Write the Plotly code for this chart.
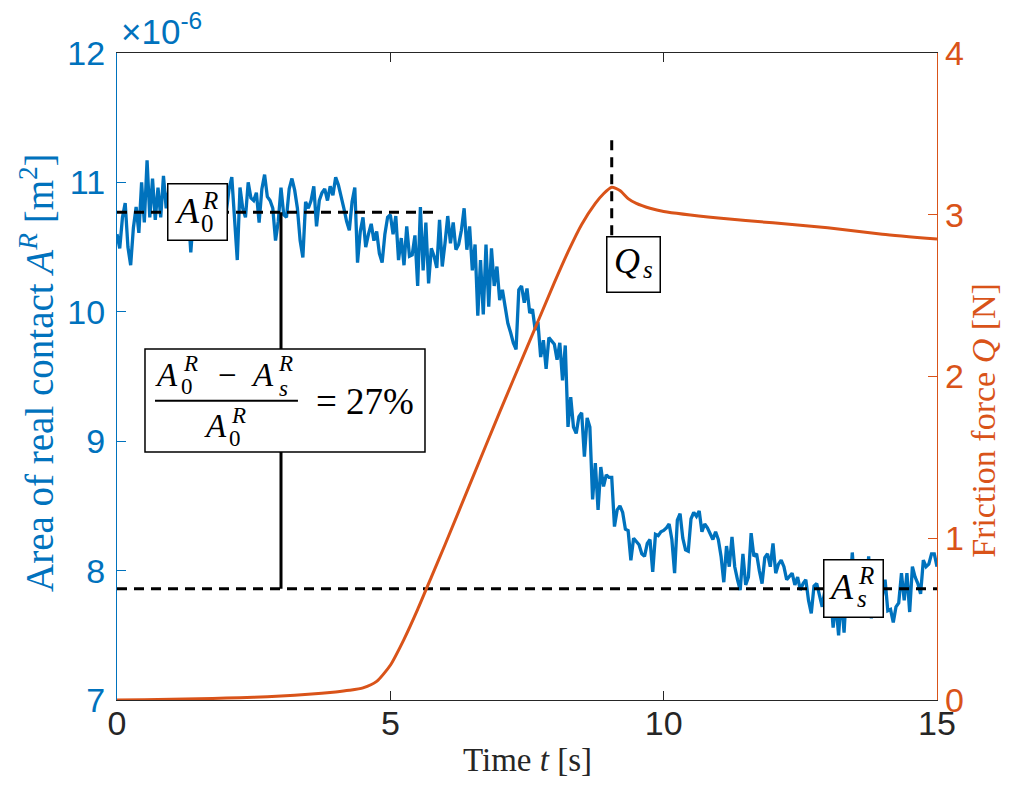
import plotly.graph_objects as go

# ---------------- data ----------------
# Area of real contact, units of 1e-6 m^2, sampled every 0.05 s from 0 to 15 s
area = [
    10.60, 10.49, 10.73, 10.84, 10.50, 10.36, 10.65, 10.81, 10.61, 11.00, 10.69, 11.17, 10.73, 11.03, 10.71, 10.96, 10.73, 11.05, 10.80, 10.95,
    10.85, 10.70, 10.92, 10.78, 10.88, 10.65, 10.80, 10.46, 10.75, 10.90, 10.68, 10.85, 10.58, 10.80, 10.95, 10.72, 10.88, 10.62, 10.84, 10.98,
    10.77, 10.95, 11.04, 10.70, 10.40, 10.96, 10.80, 10.73, 11.00, 10.88, 10.86, 10.92, 10.69, 10.95, 11.06, 10.89, 10.86, 10.80, 10.55, 10.70,
    10.96, 10.75, 10.73, 10.95, 11.03, 10.94, 10.80, 10.55, 10.42, 10.85, 10.80, 10.86, 10.97, 10.66, 10.86, 10.92, 10.95, 10.86, 10.97, 10.90,
    11.04, 10.98, 10.90, 10.80, 10.70, 10.63, 10.85, 10.96, 10.38, 10.62, 10.73, 10.50, 10.60, 10.68, 10.55, 10.62, 10.45, 10.38, 10.60, 10.73,
    10.75, 10.60, 10.74, 10.40, 10.57, 10.36, 10.66, 10.43, 10.44, 10.59, 10.20, 10.81, 10.32, 10.69, 10.22, 10.49, 10.43, 10.34, 10.71, 10.35,
    10.53, 10.74, 10.53, 10.69, 10.48, 10.52, 10.63, 10.80, 10.48, 10.66, 10.32, 10.52, 9.97, 10.40, 9.98, 10.52, 10.04, 10.49, 10.20, 10.35,
    10.09, 10.17, 10.04, 9.91, 9.84, 9.76, 9.71, 10.17, 10.20, 10.07, 10.18, 9.99, 10.02, 9.86, 9.92, 9.65, 9.78, 9.56, 9.80, 9.77,
    9.75, 9.63, 9.76, 9.47, 9.74, 9.11, 9.34, 9.11, 9.06, 9.19, 9.22, 8.88, 9.18, 9.11, 8.55, 8.83, 8.47, 8.80, 8.65, 8.74,
    8.72, 8.72, 8.34, 8.47, 8.50, 8.45, 8.32, 8.31, 8.08, 8.25, 8.22, 8.20, 8.13, 8.11, 8.21, 8.24, 7.99, 8.28, 8.27, 8.30,
    8.31, 8.33, 8.36, 8.24, 7.98, 8.39, 8.44, 8.25, 8.16, 8.15, 8.40, 8.45, 8.42, 8.46, 8.30, 8.36, 8.33, 8.28, 8.24, 8.30,
    8.24, 8.11, 7.91, 8.19, 8.03, 8.26, 8.03, 7.93, 7.85, 8.13, 7.89, 7.95, 8.29, 8.11, 8.13, 8.00, 7.90, 8.10, 8.13, 8.03,
    8.21, 7.98, 8.05, 8.08, 8.03, 7.93, 7.96, 7.98, 7.89, 7.95, 7.85, 7.90, 7.93, 7.77, 7.67, 7.88, 7.90, 7.80, 7.72, 7.85,
    7.70, 7.85, 7.56, 7.75, 7.50, 7.80, 7.52, 7.90, 7.78, 8.14, 7.85, 7.95, 7.75, 7.90, 7.80, 8.11, 7.63, 7.88, 7.72, 7.85,
    7.80, 7.93, 7.69, 7.70, 7.60, 7.72, 7.75, 7.98, 7.77, 7.98, 7.68, 8.03, 7.95, 7.90, 7.82, 8.08, 8.03, 8.05, 8.13, 8.13, 8.03,
]
t_area = [round(i * 0.05, 2) for i in range(len(area))]

# Friction force Q [N]
t_force = [0, 0.5, 1, 1.5, 2, 2.5, 3, 3.5, 4, 4.25, 4.5, 4.75, 5.0, 5.25, 5.5, 5.75, 6.0, 6.5,
           7.0, 7.5, 8.0, 8.25, 8.5, 8.75, 8.9, 9.05, 9.2, 9.35, 9.5, 9.75, 10, 11, 12, 13, 14, 15]
force = [0, 0.002, 0.005, 0.008, 0.012, 0.017, 0.024, 0.035, 0.050, 0.060, 0.075, 0.115, 0.215, 0.375,
         0.56, 0.76, 0.96, 1.37, 1.78, 2.18, 2.58, 2.77, 2.94, 3.07, 3.13, 3.17, 3.15, 3.10, 3.07,
         3.04, 3.02, 2.98, 2.95, 2.92, 2.88, 2.85]

A0_level = 10.77      # initial contact area level
As_level = 7.86       # contact area at sliding onset
A0_line_t = [0, 5.9]
As_line_t = [0, 15]
t_bracket = 3.0       # position of vertical bracket
t_Qs = 9.05           # time of static friction peak
Qs_line = [3.46, 2.86]
ratio_text = "= 27%"

x_ticks = [0, 5, 10, 15]
y_ticks = [7, 8, 9, 10, 11, 12]
y2_ticks = [0, 1, 2, 3, 4]

BLUE = "#0072BD"
ORANGE = "#D95319"
DARK = "#262626"
SERIF = "Liberation Serif"
SANS = "Liberation Sans"
DASH = "10px,7px"

fig = go.Figure()

fig.add_trace(go.Scatter(x=t_area, y=area, mode="lines",
                         line=dict(color=BLUE, width=3.3), yaxis="y", showlegend=False))
fig.add_trace(go.Scatter(x=A0_line_t, y=[A0_level, A0_level], mode="lines",
                         line=dict(color="black", width=3, dash=DASH), showlegend=False))
fig.add_trace(go.Scatter(x=As_line_t, y=[As_level, As_level], mode="lines",
                         line=dict(color="black", width=3, dash=DASH), showlegend=False))
fig.add_trace(go.Scatter(x=[t_bracket, t_bracket], y=[A0_level, As_level], mode="lines",
                         line=dict(color="black", width=3), showlegend=False))
fig.add_trace(go.Scatter(x=t_force, y=force, mode="lines", yaxis="y2",
                         line=dict(color=ORANGE, width=3, shape="spline", smoothing=0.6),
                         showlegend=False))
fig.add_trace(go.Scatter(x=[t_Qs, t_Qs], y=Qs_line, mode="lines", yaxis="y2",
                         line=dict(color="black", width=3, dash=DASH), showlegend=False))


def txt(x, y, yref, text, size, dx=0, dy=0, italic=True):
    fig.add_annotation(x=x, y=y, xref="x", yref=yref, showarrow=False,
                       xanchor="center", yanchor="middle", xshift=dx, yshift=dy,
                       text=("<i>%s</i>" % text) if italic else text,
                       font=dict(family=SERIF, size=size, color="black"))


def boxed(x, y, yref, w, h):
    fig.add_annotation(x=x, y=y, xref="x", yref=yref, showarrow=False, text=" ",
                       width=w, height=h, bgcolor="white", bordercolor="black",
                       borderwidth=1.5, borderpad=0, xanchor="center", yanchor="middle")


BIG, SMALL = 36, 25

# A_0^R label on the initial level
bx, by = 1.47, A0_level
boxed(bx, by, "y", 58, 55)
txt(bx, by, "y", "A", BIG, dx=-10, dy=1)
txt(bx, by, "y", "R", SMALL, dx=13, dy=12)
txt(bx, by, "y", "0", SMALL, dx=10, dy=-11, italic=False)

# A_s^R label on the sliding level
bx, by = 13.47, As_level
boxed(bx, by, "y", 58, 56)
txt(bx, by, "y", "A", BIG, dx=-12, dy=2)
txt(bx, by, "y", "R", SMALL, dx=13, dy=13)
txt(bx, by, "y", "s", SMALL, dx=9, dy=-10)

# Q_s label
bx, by = 9.44, 2.69
boxed(bx, by, "y2", 52, 54)
txt(bx, by, "y2", "Q", BIG, dx=-6, dy=4)
txt(bx, by, "y2", "s", SMALL, dx=15, dy=-5)

# fraction box
fig.add_shape(type="rect", xref="x", yref="y", x0=0.512, x1=5.634, y0=8.917, y1=9.713,
              fillcolor="white", line=dict(color="black", width=1.5), layer="above")
fig.add_shape(type="line", xref="x", yref="y", x0=0.695, x1=3.31, y0=9.313, y1=9.313,
              line=dict(color="black", width=2), layer="above")
FR, FS = 33, 23
fx, fy = 2.0, 9.30
txt(fx, fy, "y", "A", FR, dx=-60, dy=27)
txt(fx, fy, "y", "R", FS, dx=-36, dy=39)
txt(fx, fy, "y", "0", FS, dx=-39, dy=16, italic=False)
txt(fx, fy, "y", "−", FR, dx=1, dy=27, italic=False)
txt(fx, fy, "y", "A", FR, dx=36, dy=27)
txt(fx, fy, "y", "R", FS, dx=59, dy=39)
txt(fx, fy, "y", "s", FS, dx=57, dy=14)
txt(fx, fy, "y", "A", FR, dx=-11, dy=-24)
txt(fx, fy, "y", "R", FS, dx=12, dy=-13)
txt(fx, fy, "y", "0", FS, dx=9, dy=-36, italic=False)
txt(fx, fy, "y", ratio_text, 37, dx=139, dy=1, italic=False)

# axis titles & exponent
fig.add_annotation(x=-0.0976, y=0.507, xref="paper", yref="paper", showarrow=False, textangle=-90,
                   xanchor="center", yanchor="middle",
                   text="Area of real contact <i>A</i><sup><i>R</i></sup> [m<sup>2</sup>]",
                   font=dict(family=SERIF, size=39, color=BLUE))
fig.add_annotation(x=1.0573, y=0.433, xref="paper", yref="paper", showarrow=False, textangle=-90,
                   xanchor="center", yanchor="middle",
                   text="Friction force <i>Q</i> [N]",
                   font=dict(family=SERIF, size=34, color=ORANGE))
fig.add_annotation(x=0.5, y=-0.0927, xref="paper", yref="paper", showarrow=False,
                   xanchor="center", yanchor="middle",
                   text="Time <i>t</i> [s]", font=dict(family=SERIF, size=33, color=DARK))
fig.add_annotation(x=0.0, y=1.0, xref="paper", yref="paper", showarrow=False,
                   xanchor="left", yanchor="bottom", xshift=2, yshift=0,
                   text="×10<sup>-6</sup>", font=dict(family=SANS, size=35, color=BLUE))

fig.update_layout(
    width=1000, height=775,
    margin=dict(l=109, r=71, t=45, b=83),
    paper_bgcolor="white", plot_bgcolor="white",
    xaxis=dict(range=[0, 15], tickvals=x_ticks, showgrid=False, zeroline=False,
               showline=True, linecolor=DARK, linewidth=1.3, mirror="ticks",
               ticks="inside", ticklen=9, tickcolor=DARK, ticklabelstandoff=-7,
               tickfont=dict(family=SANS, size=34, color=DARK)),
    yaxis=dict(range=[7, 12], tickvals=y_ticks, showgrid=False, zeroline=False,
               showline=True, linecolor=BLUE, linewidth=1.3,
               ticks="inside", ticklen=9, tickcolor=BLUE, ticklabelstandoff=4,
               tickfont=dict(family=SANS, size=34, color=BLUE)),
    yaxis2=dict(range=[0, 4], tickvals=y2_ticks, overlaying="y", side="right",
                showgrid=False, zeroline=False, showline=True, linecolor=ORANGE, linewidth=1.3,
                ticks="inside", ticklen=9, tickcolor=ORANGE,
                tickfont=dict(family=SANS, size=34, color=ORANGE)),
)

fig.write_html("out.html")
